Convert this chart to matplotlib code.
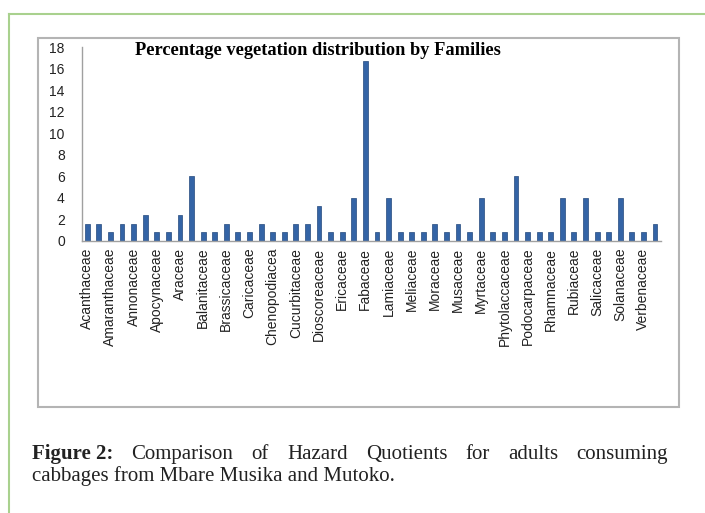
"""
Percentage vegetation distribution by families, recreated as a single figure.
"""

import matplotlib
matplotlib.use("Agg")
import matplotlib.pyplot as plt
from matplotlib.patches import Rectangle
from matplotlib.lines import Line2D

# 50 bars, only every other one carries a family label
families = [
    "Acanthaceae", "Amaranthaceae", "Annonaceae", "Apocynaceae", "Araceae",
    "Balanitaceae", "Brassicaceae", "Caricaceae", "Chenopodiacea", "Cucurbitaceae",
    "Dioscoreaceae", "Ericaceae", "Fabaceae", "Lamiaceae", "Meliaceae",
    "Moraceae", "Musaceae", "Myrtaceae", "Phytolaccaceae", "Podocarpaceae",
    "Rhamnaceae", "Rubiaceae", "Salicaceae", "Solanaceae", "Verbenaceae",
]
percent = [
    1.6, 1.6, 0.8, 1.6, 1.6, 2.4, 0.8, 0.8, 2.4, 6.0,
    0.8, 0.8, 1.6, 0.8, 0.8, 1.6, 0.8, 0.8, 1.6, 1.6,
    3.2, 0.8, 0.8, 4.0, 16.7, 0.8, 4.0, 0.8, 0.8, 0.8,
    1.6, 0.8, 1.6, 0.8, 4.0, 0.8, 0.8, 6.0, 0.8, 0.8,
    0.8, 4.0, 0.8, 4.0, 0.8, 0.8, 4.0, 0.8, 0.8, 1.6,
]
yticks = [0, 2, 4, 6, 8, 10, 12, 14, 16, 18]

title = "Percentage vegetation distribution by Families"
caption_bold = "Figure 2:"
caption_line1 = "Comparison of Hazard Quotients for adults consuming"
caption_line2 = "cabbages from Mbare Musika and Mutoko."

W, H = 705, 513
fig = plt.figure(figsize=(W / 100, H / 100), dpi=100)


def fx(px):
    return px / W


def fy(py):
    return 1 - py / H


# green page frame (top and left edges)
fig.add_artist(Line2D([fx(9), fx(9)], [fy(14), fy(513)], color="#a9d18e", lw=1.5))
fig.add_artist(Line2D([fx(9), fx(705)], [fy(14), fy(14)], color="#a9d18e", lw=1.5))

# gray chart box
fig.add_artist(Rectangle((fx(38), fy(407)), fx(679) - fx(38), fy(38) - fy(407),
                         fill=False, edgecolor="#b4b4b4", lw=1.5))

ax = fig.add_axes([fx(81.5), fy(240.7), fx(660.8) - fx(81.5), fy(47.3) - fy(240.7)])
x = list(range(len(percent)))
ax.bar(x, percent, width=0.42, color="#3464a6", edgecolor="#24497c", linewidth=0.5)
ax.set_xlim(-0.5, len(percent) - 0.5)
ax.set_ylim(0, 18)
ax.set_yticks(yticks)
ax.set_yticklabels([str(v) for v in yticks], fontsize=10, family="Liberation Sans", color="#222222")
ax.set_xticks(x[::2])
ax.set_xticklabels(families, rotation=90, fontsize=10, family="Liberation Sans",
                   color="#222222", va="top")
ax.tick_params(axis="both", length=0)
ax.tick_params(axis="y", pad=12)
ax.tick_params(axis="x", pad=5)
for side in ("top", "right"):
    ax.spines[side].set_visible(False)
for side in ("left", "bottom"):
    ax.spines[side].set_color("#a0a0a0")
    ax.spines[side].set_linewidth(1)

fig.text(fx(135), fy(51), title, family="Liberation Serif", fontweight="bold",
         fontsize=13.2, va="center", ha="left")

# caption, first line justified across the box width
renderer = fig.canvas.get_renderer()
cap_size = 15
left, right = 32, 668
words = [(caption_bold, "bold")] + [(w, "normal") for w in caption_line1.split()]
texts = []
for w, weight in words:
    t = fig.text(0, fy(459), w, family="Liberation Serif", fontweight=weight,
                 fontsize=cap_size, va="baseline", ha="left", color="#222222")
    texts.append(t)
widths = [t.get_window_extent(renderer).width for t in texts]
gap = (right - left - sum(widths)) / (len(texts) - 1)
pos = left
for t, wd in zip(texts, widths):
    t.set_x(fx(pos))
    pos += wd + gap
fig.text(fx(left), fy(481), caption_line2, family="Liberation Serif", fontsize=cap_size,
         va="baseline", ha="left", color="#222222")

fig.savefig("out.png", dpi=100)
plt.close(fig)
